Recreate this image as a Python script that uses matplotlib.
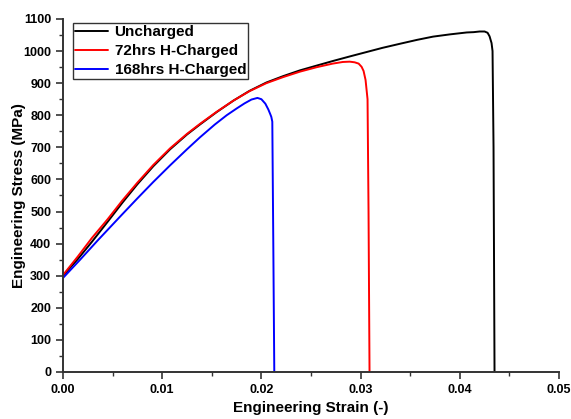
import matplotlib
matplotlib.use("Agg")
import matplotlib.pyplot as plt
from matplotlib.ticker import MultipleLocator

# Engineering stress-strain curves
uncharged_strain = [0.0, 0.0015, 0.0029, 0.0045, 0.0060, 0.0075, 0.0091, 0.0108, 0.0125, 0.0138,
                    0.0155, 0.0172, 0.0188, 0.0205, 0.0222, 0.0239, 0.0256, 0.0272, 0.0290,
                    0.0306, 0.0322, 0.0340, 0.0357, 0.0373, 0.0390, 0.0407, 0.0414, 0.0420,
                    0.0425, 0.0428, 0.0430, 0.0432, 0.0433, 0.0434, 0.0435]
uncharged_stress = [300, 352, 405, 468, 528, 585, 641, 694, 740, 771,
                    810, 846, 876, 902, 922, 940, 955, 969, 984,
                    997, 1010, 1023, 1035, 1045, 1052, 1058, 1059, 1061,
                    1061, 1057, 1046, 1025, 1000, 700, 0]

h72_strain = [0.0, 0.0015, 0.0029, 0.0045, 0.0060, 0.0075, 0.0091, 0.0108, 0.0125, 0.0138,
              0.0155, 0.0172, 0.0188, 0.0205, 0.0222, 0.0239, 0.0256, 0.0272, 0.0282,
              0.0289, 0.0294, 0.0298, 0.0301, 0.0303, 0.0305, 0.0307, 0.0308, 0.0309]
h72_stress = [302, 360, 417, 476, 535, 590, 645, 697, 742, 773,
              811, 846, 875, 900, 919, 936, 950, 961, 966,
              967, 965, 961, 951, 938, 910, 850, 500, 0]

h168_strain = [0.0, 0.0017, 0.0035, 0.00575, 0.0075, 0.0091, 0.0108, 0.0125, 0.0138, 0.0153,
               0.0165, 0.0175, 0.0183, 0.0190, 0.0196, 0.0200, 0.0204, 0.0207, 0.0209,
               0.0210, 0.0211, 0.0212, 0.0213]
h168_stress = [293, 349, 410, 484, 541, 592, 644, 694, 731, 771,
               800, 821, 837, 849, 854, 850, 836, 818, 803,
               795, 780, 400, 0]

labels = ["Uncharged", "72hrs H-Charged", "168hrs H-Charged"]
colors = ["black", "#ff0000", "#0000ff"]

plt.rcParams["font.family"] = ["Liberation Sans", "DejaVu Sans"]
plt.rcParams["font.weight"] = "bold"

fig = plt.figure(figsize=(5.71, 4.19), dpi=100)
ax = fig.add_axes([0.1103, 0.1122, 0.8687, 0.8425])

for xs, ys, lab, col in zip([uncharged_strain, h72_strain, h168_strain],
                            [uncharged_stress, h72_stress, h168_stress],
                            labels, colors):
    ax.plot(xs, ys, color=col, lw=1.4, label=lab,
            solid_joinstyle="round", solid_capstyle="round")

ax.set_xlim(0, 0.05)
ax.set_ylim(0, 1100)
ax.xaxis.set_major_locator(MultipleLocator(0.01))
ax.xaxis.set_minor_locator(MultipleLocator(0.005))
ax.yaxis.set_major_locator(MultipleLocator(100))
ax.yaxis.set_minor_locator(MultipleLocator(50))
ax.set_xticklabels([f"{v:.2f}" for v in ax.get_xticks()])

for side in ("top", "right"):
    ax.spines[side].set_visible(False)
for side in ("left", "bottom"):
    ax.spines[side].set_linewidth(1.4)
    ax.spines[side].set_color("#333333")

ax.tick_params(which="major", direction="out", length=5, width=1.2, labelsize=9, color="#333333")
ax.tick_params(which="minor", direction="out", length=3, width=1.0, color="#333333")
for lbl in ax.get_xticklabels() + ax.get_yticklabels():
    lbl.set_fontweight("bold")

ax.set_xlabel("Engineering Strain (-)", fontsize=11, fontweight="bold", labelpad=4)
ax.set_ylabel("Engineering Stress (MPa)", fontsize=11, fontweight="bold")
ax.yaxis.set_label_coords(-0.0746, 0.5)

leg = ax.legend(loc="upper left", bbox_to_anchor=(0.0202, 0.9878), fontsize=11,
                frameon=True, fancybox=False, handlelength=2.2, handletextpad=0.4,
                borderpad=0.12, labelspacing=0.32, borderaxespad=0.0)
leg.get_frame().set_edgecolor("black")
leg.get_frame().set_linewidth(1.0)
for t in leg.get_texts():
    t.set_fontweight("bold")

fig.savefig("out.png", dpi=100)
